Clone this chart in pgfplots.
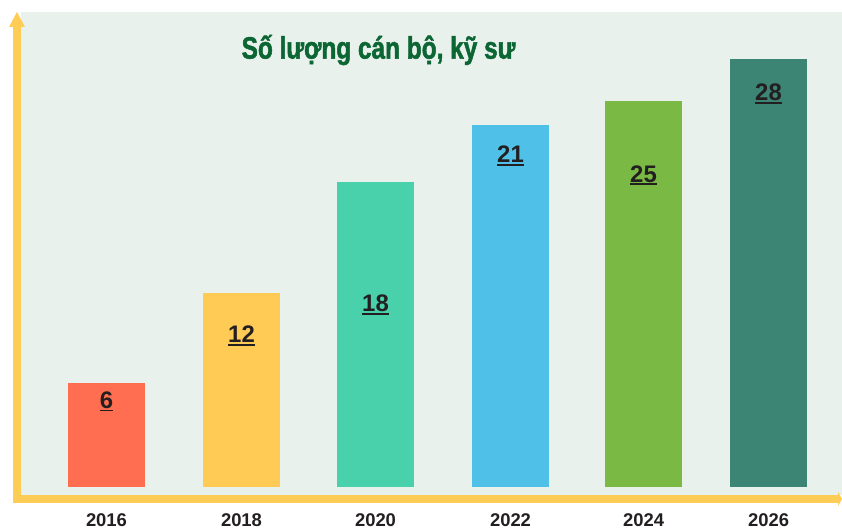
\documentclass[border=0pt]{standalone}
\usepackage{pgfplots}
\pgfplotsset{compat=1.18}
\usepackage{fontspec}
\setmainfont{Liberation Sans}
\newfontfamily\titlefont[FakeStretch=0.79,FakeBold=1.6]{Liberation Sans}
\definecolor{bgc}{RGB}{232,241,236}
\definecolor{axy}{RGB}{255,204,85}
\definecolor{cA}{RGB}{255,110,80}
\definecolor{cB}{RGB}{255,203,84}
\definecolor{cC}{RGB}{72,209,171}
\definecolor{cD}{RGB}{79,193,232}
\definecolor{cE}{RGB}{121,185,68}
\definecolor{cF}{RGB}{60,132,116}
\definecolor{ttl}{RGB}{11,102,52}
\definecolor{txt}{RGB}{35,31,32}
\newcommand\ulnum[1]{\setbox0\hbox{#1}\rlap{\rule[-3.2bp]{\wd0}{1.9bp}}\box0}
\pgfplotstableread{
x y label
106.5 85.5 6
241.5 151.3 12
375.5 182.2 18
510.5 331.2 21
643.5 311.7 25
768.5 393 28
}\labels
\begin{document}
\begin{tikzpicture}
\begin{axis}[
  scale only axis, width=821bp, height=483bp,
  xmin=21, xmax=842, ymin=-8, ymax=475,
  clip=false,
  axis line style={draw=none},
  axis background/.style={fill=bgc},
  major tick length=0pt,
  ytick=\empty,
  xtick={106.5,241.5,375.5,510.5,643.5,768.5},
  xticklabels={2016,2018,2020,2022,2024,2026},
  xticklabel style={anchor=center, yshift=-25.5bp, font=\fontsize{18.5}{20}\selectfont\bfseries, text=txt},
  /pgf/bar width=77,
]
\addplot[ybar, bar shift=0pt, fill=cA, draw=none] coordinates {(106.5,104)};
\addplot[ybar, bar shift=0pt, fill=cB, draw=none] coordinates {(241.5,194)};
\addplot[ybar, bar shift=0pt, fill=cC, draw=none] coordinates {(375.5,305)};
\addplot[ybar, bar shift=0pt, fill=cD, draw=none] coordinates {(510.5,362)};
\addplot[ybar, bar shift=0pt, fill=cE, draw=none] coordinates {(643.5,386)};
\addplot[ybar, bar shift=0pt, fill=cF, draw=none] coordinates {(768.5,428)};
\addplot[draw=none, mark=none, point meta=explicit symbolic,
  nodes near coords={\ulnum{\pgfplotspointmeta}},
  every node near coord/.append style={anchor=center, inner sep=0pt, text=txt, font=\fontsize{24}{26}\selectfont\bfseries}]
  table[x=x, y=y, meta=label] {\labels};
% yellow axes
\fill[axy] (axis cs:13,-16) rectangle (axis cs:21,460);
\fill[axy] (axis cs:9,460) -- (axis cs:25,460) -- (axis cs:17,475) -- cycle;
\fill[axy] (axis cs:13,-16) rectangle (axis cs:838,-8);
\fill[axy] (axis cs:838,-5) -- (axis cs:842,-12) -- (axis cs:838,-19) -- cycle;
\node[text=ttl, font=\titlefont\fontsize{31}{33}\selectfont\bfseries] at (axis cs:378.5,437) {Số lượng cán bộ, kỹ sư};
\path (axis cs:0,-44) rectangle (axis cs:842,487);
\end{axis}
\end{tikzpicture}
\end{document}
